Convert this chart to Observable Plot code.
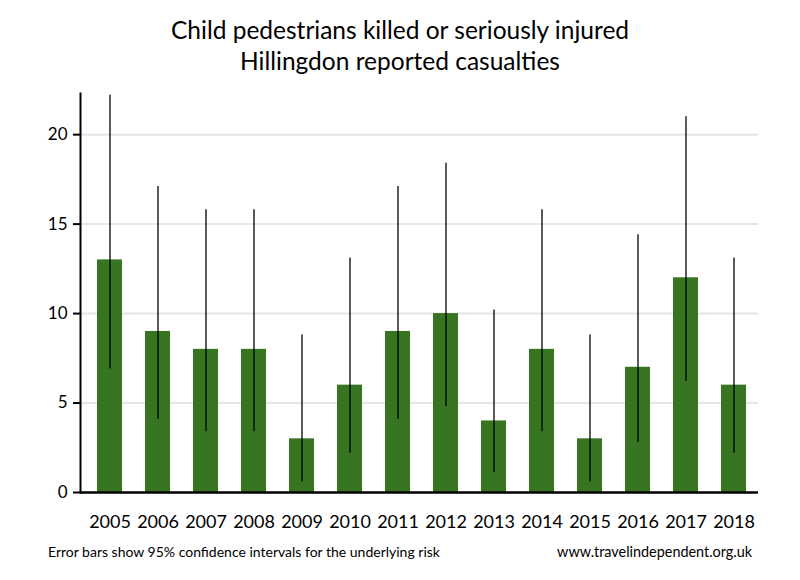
<!DOCTYPE html>
<html>
<head>
<meta charset="utf-8">
<script src="https://cdn.jsdelivr.net/npm/d3@7"></script>
<script src="https://cdn.jsdelivr.net/npm/@observablehq/plot@0.6"></script>
<style>
  html, body { margin: 0; padding: 0; background: #fff; }
  body { width: 800px; height: 580px; position: relative; overflow: hidden; font-family: Lato, "Open Sans", sans-serif; color: #000; }
  #title { position: absolute; left: 0; top: 14px; width: 800px; text-align: center; font-size: 24.5px; line-height: 31px; }
  #chart { position: absolute; left: 0; top: 80px; }
  #noteL { position: absolute; left: 48px; top: 543px; font-size: 14px; }
  #noteR { position: absolute; right: 48px; top: 543px; font-size: 14.4px; }
</style>
</head>
<body>
<div id="title">Child pedestrians killed or seriously injured<br>Hillingdon reported casualties</div>
<div id="chart"></div>
<div id="noteL">Error bars show 95% confidence intervals for the underlying risk</div>
<div id="noteR">www.travelindependent.org.uk</div>
<script>
const years = ["2005","2006","2007","2008","2009","2010","2011","2012","2013","2014","2015","2016","2017","2018"];
const casualties = [13, 9, 8, 8, 3, 6, 9, 10, 4, 8, 3, 7, 12, 6];
const lower = [6.9, 4.1, 3.4, 3.4, 0.6, 2.2, 4.1, 4.8, 1.1, 3.4, 0.6, 2.8, 6.2, 2.2];
const upper = [22.2, 17.1, 15.8, 15.8, 8.8, 13.1, 17.1, 18.4, 10.2, 15.8, 8.8, 14.4, 21.0, 13.1];
const yTicks = [0, 5, 10, 15, 20];

const data = years.map((y, i) => ({year: y, value: casualties[i], lo: lower[i], hi: upper[i]}));

const chart = Plot.plot({
  width: 800,
  height: 460,
  marginTop: 13,
  marginBottom: 48,
  marginLeft: 80,
  marginRight: 42,
  style: {fontFamily: "Lato, 'Open Sans', sans-serif", background: "#fff"},
  x: {type: "band", domain: years, paddingInner: 0.48, paddingOuter: 0, insetLeft: 17, insetRight: 12},
  y: {domain: [0, 22.3]},
  marks: [
    Plot.ruleY(yTicks.slice(1), {stroke: "#e6e6e6", strokeWidth: 2}),
    Plot.barY(data, {x: "year", y: "value", fill: "#387522"}),
    Plot.ruleX(data, {x: "year", y1: "lo", y2: "hi", stroke: "#000", strokeWidth: 1.3}),
    Plot.axisY({ticks: yTicks, tickSize: 7, tickPadding: 6, fontSize: 17, strokeWidth: 2, label: null, color: "#000"}),
    Plot.axisX({tickSize: 0, tickPadding: 23, fontSize: 18, label: null, color: "#000"}),
    Plot.frame({anchor: "left", stroke: "#000", strokeWidth: 2}),
    Plot.ruleY([0], {stroke: "#000", strokeWidth: 2.5})
  ]
});
document.getElementById("chart").appendChild(chart);
</script>
</body>
</html>
